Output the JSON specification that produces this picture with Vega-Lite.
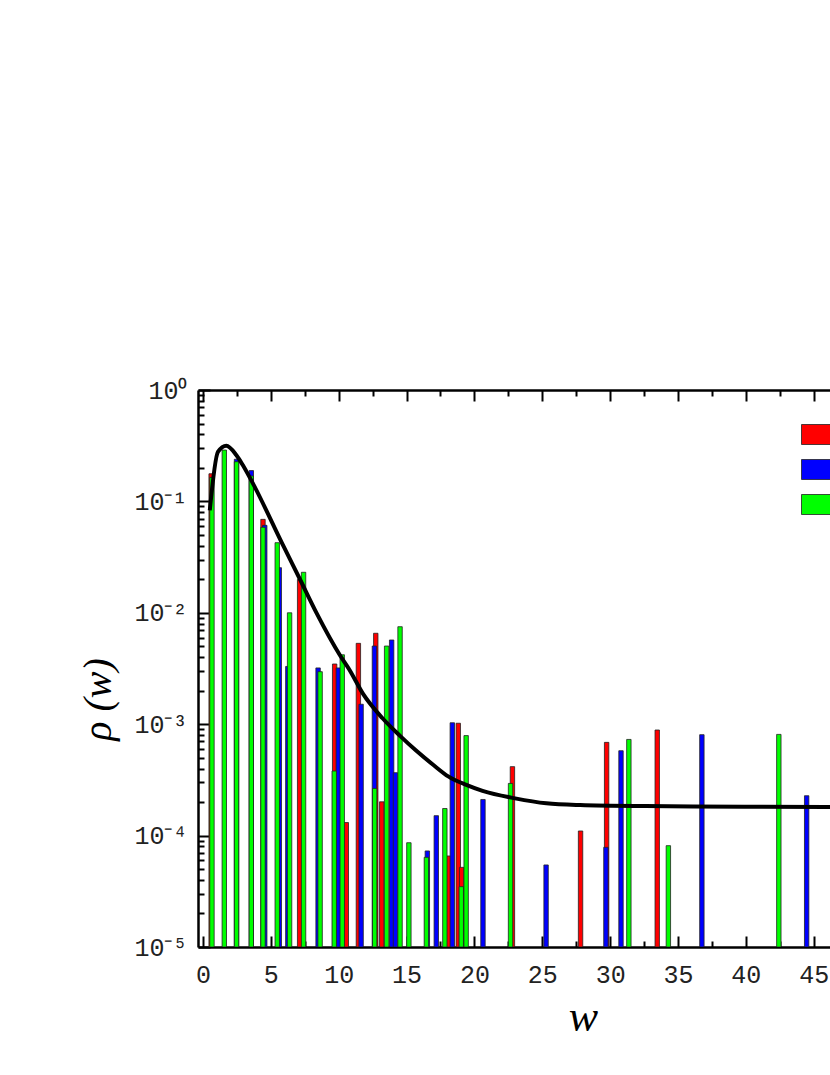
{
  "$schema": "https://vega.github.io/schema/vega-lite/v6.json",
  "autosize": "none",
  "width": 770,
  "height": 557,
  "padding": {"left": 198, "top": 390, "right": 0, "bottom": 128},
  "background": "white",
  "config": {
    "view": {"stroke": null},
    "axis": {
      "grid": false,
      "domainColor": "black",
      "domainWidth": 2.5,
      "tickColor": "black",
      "tickWidth": 2,
      "labelFont": "Liberation Mono",
      "labelFontSize": 25,
      "labelColor": "#222222",
      "labelOverlap": false,
      "labelFlush": false,
      "labelBound": false,
      "zindex": 1
    }
  },
  "datasets": {
    "bars": [
      {"series": "a", "w": 0.6, "rho": 0.177},
      {"series": "a", "w": 4.42, "rho": 0.069},
      {"series": "a", "w": 7.12, "rho": 0.0199},
      {"series": "a", "w": 9.7, "rho": 0.00347},
      {"series": "a", "w": 10.56, "rho": 0.000131},
      {"series": "a", "w": 11.45, "rho": 0.00532},
      {"series": "a", "w": 12.73, "rho": 0.00655},
      {"series": "a", "w": 13.17, "rho": 0.000201},
      {"series": "a", "w": 18.1, "rho": 0.0000656},
      {"series": "a", "w": 18.81, "rho": 0.00102},
      {"series": "a", "w": 19.06, "rho": 0.0000519},
      {"series": "a", "w": 22.8, "rho": 0.000416},
      {"series": "a", "w": 27.82, "rho": 0.00011},
      {"series": "a", "w": 29.74, "rho": 0.000687},
      {"series": "a", "w": 33.47, "rho": 0.000887},
      {"series": "b", "w": 2.47, "rho": 0.239},
      {"series": "b", "w": 3.56, "rho": 0.189},
      {"series": "b", "w": 4.55, "rho": 0.061},
      {"series": "b", "w": 5.62, "rho": 0.0254},
      {"series": "b", "w": 6.25, "rho": 0.0033},
      {"series": "b", "w": 8.48, "rho": 0.0032},
      {"series": "b", "w": 9.97, "rho": 0.0032},
      {"series": "b", "w": 11.65, "rho": 0.00151},
      {"series": "b", "w": 12.63, "rho": 0.00503},
      {"series": "b", "w": 13.9, "rho": 0.0057},
      {"series": "b", "w": 14.18, "rho": 0.000367},
      {"series": "b", "w": 16.53, "rho": 0.0000728},
      {"series": "b", "w": 17.19, "rho": 0.000151},
      {"series": "b", "w": 18.37, "rho": 0.00103},
      {"series": "b", "w": 20.63, "rho": 0.000211},
      {"series": "b", "w": 25.28, "rho": 0.0000545},
      {"series": "b", "w": 29.69, "rho": 0.0000785},
      {"series": "b", "w": 30.8, "rho": 0.000578},
      {"series": "b", "w": 36.76, "rho": 0.000805},
      {"series": "b", "w": 44.48, "rho": 0.000228},
      {"series": "c", "w": 0.66, "rho": 0.164},
      {"series": "c", "w": 1.57, "rho": 0.289},
      {"series": "c", "w": 2.47, "rho": 0.227},
      {"series": "c", "w": 3.56, "rho": 0.169},
      {"series": "c", "w": 4.42, "rho": 0.0585},
      {"series": "c", "w": 5.47, "rho": 0.0426},
      {"series": "c", "w": 6.38, "rho": 0.01},
      {"series": "c", "w": 7.41, "rho": 0.0231},
      {"series": "c", "w": 8.63, "rho": 0.00296},
      {"series": "c", "w": 9.67, "rho": 0.00038},
      {"series": "c", "w": 10.26, "rho": 0.0042},
      {"series": "c", "w": 12.65, "rho": 0.000265},
      {"series": "c", "w": 13.53, "rho": 0.00503},
      {"series": "c", "w": 14.52, "rho": 0.0075},
      {"series": "c", "w": 15.17, "rho": 0.0000863},
      {"series": "c", "w": 16.46, "rho": 0.0000638},
      {"series": "c", "w": 17.82, "rho": 0.000175},
      {"series": "c", "w": 19.03, "rho": 0.0000348},
      {"series": "c", "w": 19.39, "rho": 0.00079},
      {"series": "c", "w": 22.66, "rho": 0.000294},
      {"series": "c", "w": 31.38, "rho": 0.00073},
      {"series": "c", "w": 34.29, "rho": 0.0000812},
      {"series": "c", "w": 42.43, "rho": 0.00081}
    ],
    "curve": [
      {"w": 0.5, "rho": 0.083},
      {"w": 1.1, "rho": 0.278},
      {"w": 1.72, "rho": 0.316},
      {"w": 2.45, "rho": 0.261},
      {"w": 2.93, "rho": 0.212},
      {"w": 3.54, "rho": 0.156},
      {"w": 5.96, "rho": 0.039},
      {"w": 7.17, "rho": 0.0197},
      {"w": 8.38, "rho": 0.00988},
      {"w": 10.08, "rho": 0.00418},
      {"w": 10.8, "rho": 0.00307},
      {"w": 11.77, "rho": 0.00189},
      {"w": 13.23, "rho": 0.00113},
      {"w": 14.5, "rho": 0.00079},
      {"w": 15.7, "rho": 0.00058},
      {"w": 16.98, "rho": 0.00043},
      {"w": 18.1, "rho": 0.000338},
      {"w": 19.4, "rho": 0.000285},
      {"w": 20.6, "rho": 0.000252},
      {"w": 23.0, "rho": 0.000216},
      {"w": 25.3, "rho": 0.000195},
      {"w": 27.8, "rho": 0.000188},
      {"w": 32.6, "rho": 0.000184},
      {"w": 39.9, "rho": 0.000182},
      {"w": 45.9, "rho": 0.000181},
      {"w": 56, "rho": 0.00018}
    ]
  },
  "layer": [
    {
      "data": {"name": "bars"},
      "mark": {"type": "bar", "size": 4.4, "stroke": "#222222", "strokeWidth": 0.8, "clip": true},
      "encoding": {
        "x": {
          "field": "w",
          "type": "quantitative",
          "scale": {"domain": [0, 56], "nice": false, "zero": false},
          "axis": {
            "orient": "bottom",
            "values": [0, 2.5, 5, 7.5, 10, 12.5, 15, 17.5, 20, 22.5, 25, 27.5, 30, 32.5, 35, 37.5, 40, 42.5, 45, 47.5, 50, 52.5, 55],
            "labelExpr": "datum.value % 5 === 0 ? format(datum.value, 'd') : ''",
            "tickSize": {"condition": {"test": "datum.value % 5 === 0", "value": -11}, "value": -6},
            "labelPadding": 26,
            "labelAngle": 0,
            "title": "w",
            "titleFont": "Liberation Serif",
            "titleFontStyle": "italic",
            "titleFontWeight": "normal",
            "titleFontSize": 44,
            "titleColor": "black",
            "titleBaseline": "alphabetic",
            "titleY": 83
          }
        },
        "y": {
          "field": "rho",
          "type": "quantitative",
          "scale": {"type": "log", "domain": [0.00001, 1], "nice": false},
          "axis": {
            "orient": "left",
            "values": [0.00001, 0.00002, 0.00003, 0.00004, 0.00005, 0.00006, 0.00007, 0.00008, 0.00009,
                       0.0001, 0.0002, 0.0003, 0.0004, 0.0005, 0.0006, 0.0007, 0.0008, 0.0009,
                       0.001, 0.002, 0.003, 0.004, 0.005, 0.006, 0.007, 0.008, 0.009,
                       0.01, 0.02, 0.03, 0.04, 0.05, 0.06, 0.07, 0.08, 0.09,
                       0.1, 0.2, 0.3, 0.4, 0.5, 0.6, 0.7, 0.8, 0.9, 1],
            "labelExpr": "abs(log(datum.value)/LN10 - round(log(datum.value)/LN10)) < 0.001 ? '10' + (round(log(datum.value)/LN10) < 0 ? '⁻' : '') + ['⁰','¹','²','³','⁴','⁵'][abs(round(log(datum.value)/LN10))] : ''",
            "tickSize": {"condition": {"test": "abs(log(datum.value)/LN10 - round(log(datum.value)/LN10)) < 0.001", "value": -12}, "value": -6},
            "labelPadding": 23,
            "title": "ρ (w)",
            "titleFont": "Liberation Serif",
            "titleFontStyle": "italic",
            "titleFontWeight": "normal",
            "titleFontSize": 40,
            "titleColor": "black",
            "titleAngle": -90,
            "titleAlign": "center",
            "titleBaseline": "alphabetic",
            "titleX": -88,
            "titleY": 309
          }
        },
        "y2": {"datum": 0.00001},
        "color": {
          "field": "series",
          "type": "nominal",
          "scale": {"domain": ["a", "b", "c"], "range": ["#ff0000", "#0000ff", "#00ff00"]},
          "legend": {
            "orient": "none",
            "legendX": 593,
            "legendY": 34,
            "title": null,
            "symbolType": "M0,-1H3V1H0Z",
            "symbolSize": 400,
            "symbolStrokeColor": "#222222",
            "symbolStrokeWidth": 0.8,
            "symbolOpacity": 1,
            "rowPadding": 10,
            "labelFont": "Liberation Mono",
            "labelFontSize": 18,
            "labelOffset": 30,
            "labelColor": "#222222"
          }
        }
      }
    },
    {
      "data": {"name": "curve"},
      "mark": {"type": "line", "color": "black", "strokeWidth": 4, "interpolate": "monotone", "clip": true},
      "encoding": {
        "x": {
          "field": "w",
          "type": "quantitative",
          "axis": {
            "orient": "top",
            "values": [0, 2.5, 5, 7.5, 10, 12.5, 15, 17.5, 20, 22.5, 25, 27.5, 30, 32.5, 35, 37.5, 40, 42.5, 45, 47.5, 50, 52.5, 55],
            "labels": false,
            "title": null,
            "tickSize": {"condition": {"test": "datum.value % 5 === 0", "value": -11}, "value": -6}
          }
        },
        "y": {
          "field": "rho",
          "type": "quantitative",
          "axis": {
            "orient": "right",
            "values": [0.00001, 0.0001, 0.001, 0.01, 0.1, 1],
            "labels": false,
            "title": null,
            "tickSize": -12
          }
        }
      }
    }
  ],
  "resolve": {"axis": {"x": "independent", "y": "independent"}}
}
